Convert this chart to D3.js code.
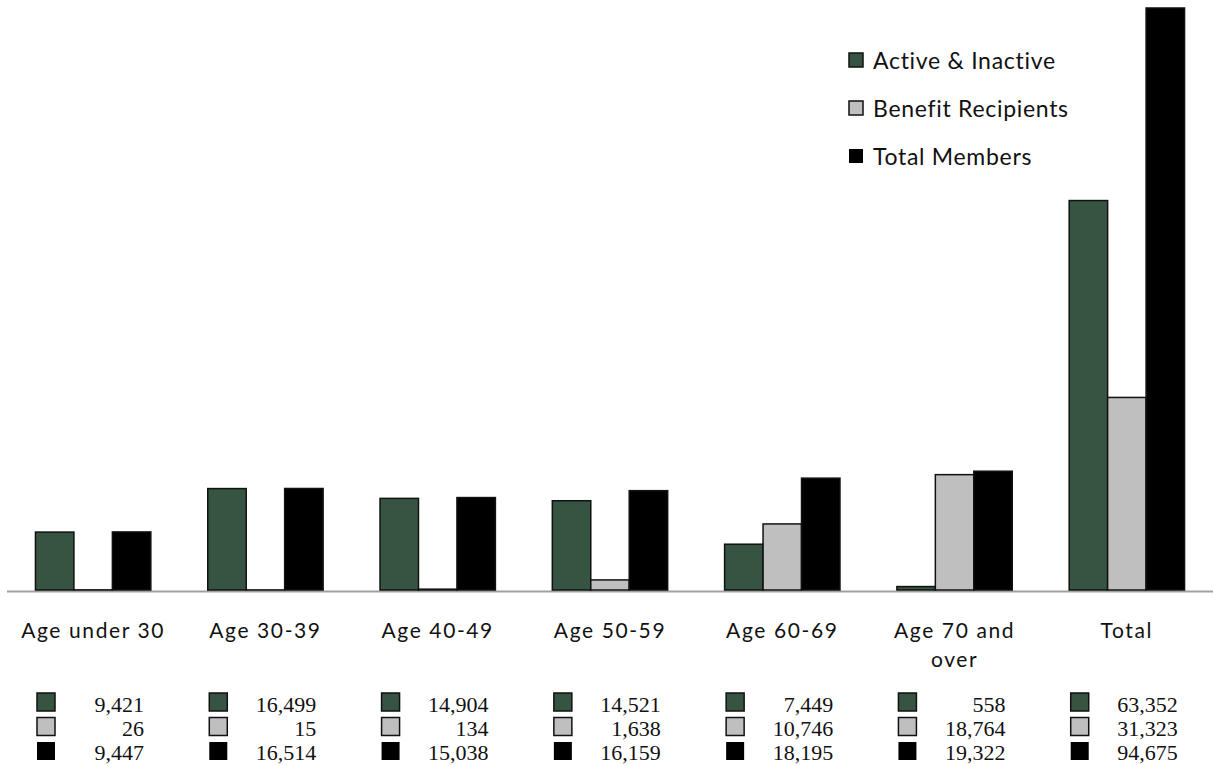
<!DOCTYPE html>
<html>
<head>
<meta charset="utf-8">
<script src="https://cdn.jsdelivr.net/npm/d3@7/dist/d3.min.js"></script>
<style>
  html, body { margin: 0; padding: 0; background: #fff; }
  svg { display: block; }
</style>
</head>
<body>
<div id="chart"></div>
<script>
// categories and series
const categories = ["Age under 30", "Age 30-39", "Age 40-49", "Age 50-59", "Age 60-69", "Age 70 and over", "Total"];
const seriesNames = ["Active & Inactive", "Benefit Recipients", "Total Members"];
const activeInactive = [9421, 16499, 14904, 14521, 7449, 558, 63352];
const benefitRecipients = [26, 15, 134, 1638, 10746, 18764, 31323];
const totalMembers = [9447, 16514, 15038, 16159, 18195, 19322, 94675];
const seriesColors = ["#375442", "#bfbfbf", "#000000"];

const width = 1213, height = 765;
const baseY = 590;

const svg = d3.select("#chart").append("svg")
    .attr("width", width)
    .attr("height", height);

const values = [activeInactive, benefitRecipients, totalMembers];
const rows = categories.map((c, i) => ({
    cat: c,
    vals: values.map((v, s) => ({ series: s, value: v[i] }))
}));

const x = d3.scaleBand()
    .domain(categories)
    .range([7, 1213])
    .padding(0);

const xs = d3.scaleBand()
    .domain([0, 1, 2])
    .range([0, x.bandwidth()])
    .paddingInner(0)
    .paddingOuter(0.74);

const y = d3.scaleLinear()
    .domain([0, d3.max(totalMembers)])
    .range([baseY, 8]);

// category axis line
svg.append("line")
    .attr("x1", 7)
    .attr("x2", 1213)
    .attr("y1", baseY + 1.5)
    .attr("y2", baseY + 1.5)
    .attr("stroke", "#a0a0a0")
    .attr("stroke-width", 2);

// bars
const groups = svg.selectAll(".grp")
    .data(rows)
    .enter()
    .append("g")
    .attr("class", "grp")
    .attr("transform", d => `translate(${x(d.cat)},0)`);

groups.selectAll("rect")
    .data(d => d.vals)
    .enter()
    .append("rect")
    .attr("x", d => xs(d.series))
    .attr("y", d => y(d.value))
    .attr("width", xs.bandwidth())
    .attr("height", d => baseY - y(d.value))
    .attr("fill", d => seriesColors[d.series])
    .attr("stroke", "#111")
    .attr("stroke-width", 1.5);

// category labels (wrapped like the original)
const labelLines = {
    "Age 70 and over": ["Age 70 and", "over"]
};
groups.each(function(d) {
    const g = d3.select(this);
    const lines = labelLines[d.cat] || [d.cat];
    lines.forEach((ln, k) => {
        g.append("text")
            .attr("x", x.bandwidth() / 2)
            .attr("y", 638 + k * 29)
            .attr("text-anchor", "middle")
            .style("font-family", "Lato, 'Noto Sans', sans-serif")
            .style("font-size", "21px")
            .style("letter-spacing", "1.6px")
            .style("fill", "#111")
            .text(ln);
    });
});

// data table under the chart
const fmt = d3.format(",");
groups.each(function(d) {
    const g = d3.select(this);
    d.vals.forEach((v, k) => {
        g.append("rect")
            .attr("x", 30)
            .attr("y", 693 + k * 24.5)
            .attr("width", 18)
            .attr("height", 18)
            .attr("fill", seriesColors[v.series])
            .attr("stroke", "#111")
            .attr("stroke-width", v.series === 2 ? 0 : 1.5);
        g.append("text")
            .attr("x", 137)
            .attr("y", 712 + k * 24)
            .attr("text-anchor", "end")
            .style("font-family", "'Liberation Serif', 'Times New Roman', serif")
            .style("font-size", "22px")
            .style("fill", "#111")
            .text(fmt(v.value));
    });
});

// legend
const legend = svg.append("g")
    .attr("transform", "translate(849,53)");

seriesNames.forEach((name, i) => {
    const lg = legend.append("g")
        .attr("transform", `translate(0,${i * 48})`);
    lg.append("rect")
        .attr("width", 14)
        .attr("height", 14)
        .attr("fill", seriesColors[i])
        .attr("stroke", "#111")
        .attr("stroke-width", i === 2 ? 0 : 1.5);
    lg.append("text")
        .attr("x", 24)
        .attr("y", 16)
        .style("font-family", "Lato, 'Noto Sans', sans-serif")
        .style("font-size", "23px")
        .style("letter-spacing", "0.7px")
        .style("fill", "#111")
        .text(name);
});
</script>
</body>
</html>
